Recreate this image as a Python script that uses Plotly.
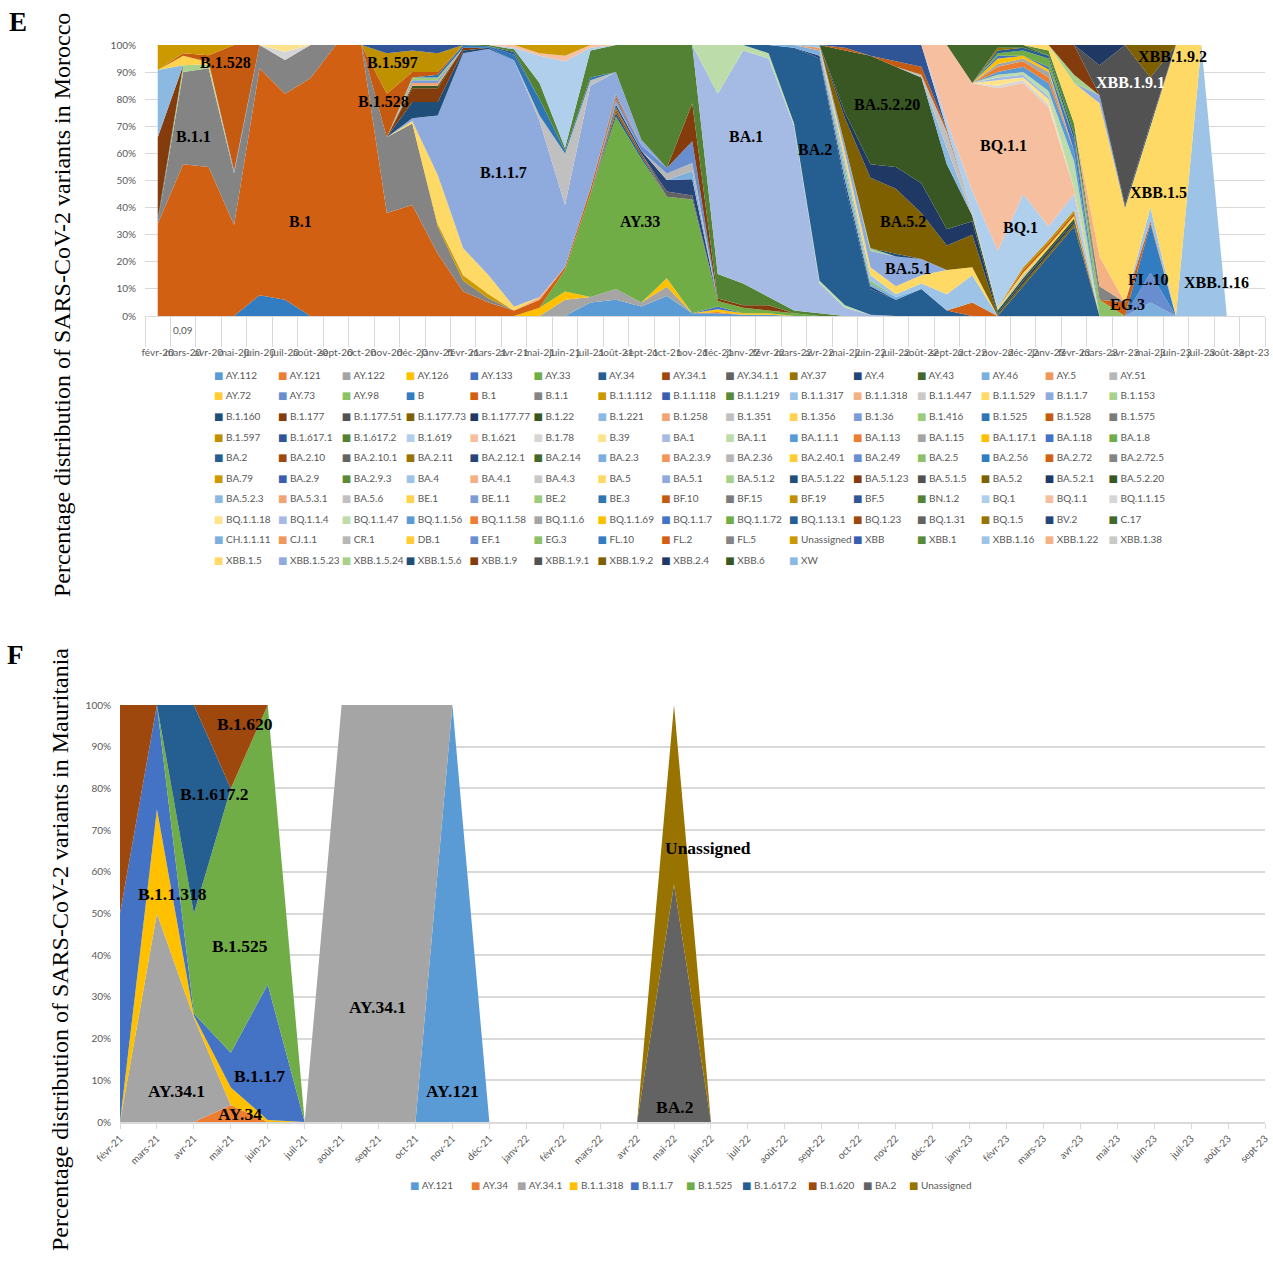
import plotly.graph_objects as go

W, H = 1273, 1263

# ---------------------------------------------------------------- panel E data
MONTHS_E = ["févr-20", "mars-20", "avr-20", "mai-20", "juin-20", "juil-20", "août-20", "sept-20",
            "oct-20", "nov-20", "déc-20", "janv-21", "févr-21", "mars-21", "avr-21", "mai-21",
            "juin-21", "juil-21", "août-21", "sept-21", "oct-21", "nov-21", "déc-21", "janv-22",
            "févr-22", "mars-22", "avr-22", "mai-22", "juin-22", "juil-22", "août-22", "sept-22",
            "oct-22", "nov-22", "déc-22", "janv-23", "févr-23", "mars-23", "avr-23", "mai-23",
            "juin-23", "juil-23", "août-23", "sept-23"]

VARIANTS_E = [
    "AY.112", "AY.121", "AY.122", "AY.126", "AY.133", "AY.33", "AY.34", "AY.34.1", "AY.34.1.1", "AY.37", "AY.4", "AY.43", "AY.46", "AY.5", "AY.51",
    "AY.72", "AY.73", "AY.98", "B", "B.1", "B.1.1", "B.1.1.112", "B.1.1.118", "B.1.1.219", "B.1.1.317", "B.1.1.318", "B.1.1.447", "B.1.1.529", "B.1.1.7", "B.1.153",
    "B.1.160", "B.1.177", "B.1.177.51", "B.1.177.73", "B.1.177.77", "B.1.22", "B.1.221", "B.1.258", "B.1.351", "B.1.356", "B.1.36", "B.1.416", "B.1.525", "B.1.528", "B.1.575",
    "B.1.597", "B.1.617.1", "B.1.617.2", "B.1.619", "B.1.621", "B.1.78", "B.39", "BA.1", "BA.1.1", "BA.1.1.1", "BA.1.13", "BA.1.15", "BA.1.17.1", "BA.1.18", "BA.1.8",
    "BA.2", "BA.2.10", "BA.2.10.1", "BA.2.11", "BA.2.12.1", "BA.2.14", "BA.2.3", "BA.2.3.9", "BA.2.36", "BA.2.40.1", "BA.2.49", "BA.2.5", "BA.2.56", "BA.2.72", "BA.2.72.5",
    "BA.79", "BA.2.9", "BA.2.9.3", "BA.4", "BA.4.1", "BA.4.3", "BA.5", "BA.5.1", "BA.5.1.2", "BA.5.1.22", "BA.5.1.23", "BA.5.1.5", "BA.5.2", "BA.5.2.1", "BA.5.2.20",
    "BA.5.2.3", "BA.5.3.1", "BA.5.6", "BE.1", "BE.1.1", "BE.2", "BE.3", "BF.10", "BF.15", "BF.19", "BF.5", "BN.1.2", "BQ.1", "BQ.1.1", "BQ.1.1.15",
    "BQ.1.1.18", "BQ.1.1.4", "BQ.1.1.47", "BQ.1.1.56", "BQ.1.1.58", "BQ.1.1.6", "BQ.1.1.69", "BQ.1.1.7", "BQ.1.1.72", "BQ.1.13.1", "BQ.1.23", "BQ.1.31", "BQ.1.5", "BV.2", "C.17",
    "CH.1.1.11", "CJ.1.1", "CR.1", "DB.1", "EF.1", "EG.3", "FL.10", "FL.2", "FL.5", "Unassigned", "XBB", "XBB.1", "XBB.1.16", "XBB.1.22", "XBB.1.38",
    "XBB.1.5", "XBB.1.5.23", "XBB.1.5.24", "XBB.1.5.6", "XBB.1.9", "XBB.1.9.1", "XBB.1.9.2", "XBB.2.4", "XBB.6", "XW",
]

# monthly composition (% of sequences), one small dict per month
E_M00 = {"B.1": 34, "B.1.1": 0.7, "B.1.160": 1, "B.1.177": 30.3, "B.1.221": 24.8, "Unassigned": 9.2}
E_M01 = {"B.1": 56, "B.1.1": 34, "B.1.153": 2.5, "B.1.356": 3.5, "B.1.528": 1, "Unassigned": 3}
E_M02 = {"B.1": 55, "B.1.1": 36.4, "B.1.153": 1.5, "B.1.356": 0.8, "B.1.528": 2.5, "Unassigned": 3.8}
E_M03 = {"B.1": 33.6, "B.1.1": 19, "B.1.36": 1, "B.1.528": 46.4}
E_M04 = {"B": 7.7, "B.1": 83.7, "B.1.1": 8.6}
E_M05 = {"B": 6, "B.1": 76, "B.1.1": 12.5, "B.1.78": 3, "B.39": 2.5}
E_M06 = {"B.1": 87.7, "B.1.1": 12.3}
E_M07 = {"B.1": 100}
E_M08 = {"B.1": 100}
E_M09 = {"B.1": 38, "B.1.1": 28, "B.1.528": 16, "B.1.597": 15, "B.1.617.1": 3}
E_M10 = {"B.1": 41, "B.1.1": 30, "B.1.1.529": 1, "B.1.1.7": 1, "B.1.160": 6, "B.1.177": 5, "B.1.22": 1,
         "B.1.258": 1, "B.1.36": 1, "B.1.416": 1, "B.1.528": 2, "B.1.597": 8, "B.1.617.1": 2}
E_M11 = {"B.1": 23, "B.1.1": 10, "B.1.1.112": 1, "B.1.1.529": 18, "B.1.1.7": 22, "B.1.160": 5, "B.1.177": 5,
         "B.1.22": 1, "B.1.258": 1, "B.1.36": 1, "B.1.416": 1, "B.1.525": 1, "B.1.528": 1, "B.1.597": 7, "B.1.617.1": 3}
E_M12 = {"B.1": 9, "B.1.1": 4, "B.1.1.112": 2, "B.1.1.529": 10, "B.1.1.7": 72, "B.1.160": 1, "B.1.177": 1, "B.1.525": 1}
E_M13 = {"B.1": 5, "B.1.1": 1.5, "B.1.1.112": 1.5, "B.1.1.529": 7, "B.1.1.7": 83.5, "B.1.160": 0.5, "B.1.525": 0.5, "B.1.617.2": 0.5}
E_M14 = {"B.1": 2, "B.1.1.529": 1.4, "B.1.1.7": 91, "B.1.525": 2, "B.1.617.1": 1, "B.1.617.2": 1, "B.1.619": 0.6, "B.1.621": 1}
E_M15 = {"AY.126": 3, "B.1": 3, "B.1.1.318": 1, "B.1.1.7": 65, "B.1.351": 2, "B.1.525": 6, "B.1.617.2": 6,
         "B.1.619": 10, "B.1.621": 1, "Unassigned": 3}
E_M16 = {"AY.122": 6, "AY.126": 3, "AY.33": 8, "B.1": 1, "B.1.1.7": 23, "B.1.351": 19, "B.1.525": 1, "B.1.617.2": 1,
         "B.1.619": 32, "B.1.621": 2, "Unassigned": 4}
E_M17 = {"AY.112": 5, "AY.122": 2, "AY.33": 38, "B.1": 2, "B.1.1.7": 38, "B.1.351": 2, "B.1.525": 1, "B.1.617.2": 10,
         "B.1.619": 1, "B.1.621": 1}
E_M18 = {"AY.112": 6, "AY.122": 4, "AY.33": 63.5, "AY.34": 1.5, "AY.34.1": 1, "AY.37": 1, "AY.4": 1, "AY.46": 1,
         "AY.73": 1, "B.1": 1, "B.1.1": 1, "B.1.1.7": 8, "B.1.617.2": 10}
E_M19 = {"AY.112": 3.5, "AY.122": 1.5, "AY.33": 53, "AY.34": 1, "AY.34.1": 1, "AY.4": 1, "AY.73": 2, "B.1.1.7": 2, "B.1.617.2": 35}
E_M20 = {"AY.112": 7.4, "AY.122": 3.4, "AY.126": 3.1, "AY.33": 30.1, "AY.34.1.1": 1.9, "AY.4": 4.3, "AY.51": 2.4,
         "AY.73": 2, "B.1.617.2": 45.4}
E_M21 = {"AY.112": 1, "AY.33": 42, "AY.34.1.1": 1.5, "AY.4": 6, "AY.46": 3, "AY.51": 3, "AY.73": 8, "B.1.177": 14, "B.1.617.2": 21.5}
E_M22 = {"AY.112": 1, "AY.121": 0.5, "AY.126": 1, "AY.133": 1, "AY.33": 2, "B.1.177": 1, "B.1.617.2": 9, "BA.1": 66.5, "BA.1.1": 18}
E_M23 = {"AY.112": 0.5, "AY.126": 0.5, "AY.33": 2, "B.1.177": 1, "B.1.617.2": 8, "BA.1": 86, "BA.1.1": 2}
E_M24 = {"AY.112": 0.5, "AY.126": 0.5, "AY.33": 1, "B.1.177": 2, "B.1.617.2": 3, "BA.1": 88, "BA.1.1": 2, "BA.2": 3}
E_M25 = {"AY.33": 1, "B.1.617.2": 1, "BA.1": 68, "BA.1.1": 1, "BA.2": 28, "BA.2.3": 1}
E_M26 = {"B.1.617.2": 1, "BA.1": 11, "BA.1.1": 1, "BA.2": 82, "BA.2.12.1": 1, "BA.2.3": 2, "BA.2.3.9": 1, "BA.4": 1}
E_M27 = {"BA.1": 3, "BA.1.1": 1, "BA.2": 44, "BA.2.12.1": 2, "BA.2.3": 3, "BA.2.5": 2, "BA.4": 2, "BA.4.1": 1, "BA.5": 2,
         "BA.5.1": 3, "BA.5.2": 10, "BA.5.2.1": 2, "BA.5.2.20": 23, "BF.10": 1, "BF.5": 1}
E_M28 = {"BA.1": 0.5, "BA.2": 9.5, "BA.2.12.1": 1, "BA.2.3": 1, "BA.2.5": 1, "BA.4": 2, "BA.5": 3, "BA.5.1": 6,
         "BA.5.1.2": 1, "BA.5.2": 26, "BA.5.2.1": 5, "BA.5.2.20": 40, "BF.5": 4}
E_M29 = {"BA.2": 6, "BA.2.3": 1, "BA.4": 1, "BA.5": 3, "BA.5.1": 11, "BA.5.1.22": 1, "BA.5.2": 24, "BA.5.2.1": 8,
         "BA.5.2.20": 37, "BF.10": 2, "BF.5": 6}
E_M30 = {"BA.2": 10, "BA.4": 2, "BA.5": 3, "BA.5.1": 6, "BA.5.2": 17, "BA.5.2.1": 11, "BA.5.2.20": 39, "BA.5.6": 1,
         "BF.10": 3, "BF.5": 8}
E_M31 = {"BA.2": 2, "BA.4": 6, "BA.5": 9, "BA.5.2": 9, "BA.5.2.1": 6, "BA.5.2.20": 24, "BA.5.2.3": 6, "BA.5.6": 6,
         "BF.10": 1, "BQ.1": 3, "BQ.1.1": 28}
E_M32 = {"BA.2.72": 5, "BA.4": 10, "BA.5": 3, "BA.5.2": 12, "BA.5.2.1": 5, "BA.5.2.20": 2, "BA.5.6": 1, "BQ.1": 8,
         "BQ.1.1": 40, "C.17": 14}
E_M33 = {"BA.5.2": 0.5, "BA.5.2.1": 0.5, "BA.5.2.20": 1, "BA.5.2.3": 0.5, "BE.1": 0.5, "BQ.1": 21, "BQ.1.1": 60,
         "BQ.1.1.15": 1, "BQ.1.1.18": 2, "BQ.1.1.4": 1, "BQ.1.1.47": 1, "BQ.1.1.56": 1, "BQ.1.1.58": 2, "BQ.1.1.6": 1,
         "BQ.1.1.69": 2, "BQ.1.1.7": 1, "BQ.1.1.72": 1, "BQ.1.13.1": 1, "BQ.1.5": 1, "C.17": 1}
E_M34 = {"BA.2": 11, "BA.5.2": 1, "BA.5.2.1": 1, "BA.5.2.20": 1, "BA.5.6": 1, "BE.1": 1, "BF.10": 1, "BF.19": 1,
         "BQ.1": 27, "BQ.1.1": 41, "BQ.1.1.15": 1, "BQ.1.1.18": 1, "BQ.1.1.4": 1, "BQ.1.1.47": 1, "BQ.1.1.56": 2,
         "BQ.1.1.58": 2, "BQ.1.1.6": 1, "BQ.1.1.69": 1, "BQ.1.1.72": 2, "BQ.1.13.1": 1, "C.17": 1}
E_M35 = {"BA.2": 22, "BA.5.2": 1, "BA.5.2.1": 1, "BA.5.2.20": 1, "BE.1": 1, "BF.10": 1, "BF.19": 1, "BQ.1": 5,
         "BQ.1.1": 44, "BQ.1.1.15": 1, "BQ.1.1.18": 2, "BQ.1.1.4": 1, "BQ.1.1.47": 2, "BQ.1.1.56": 3, "BQ.1.1.58": 2,
         "BQ.1.1.6": 2, "BQ.1.1.69": 1, "BQ.1.1.7": 1, "BQ.1.1.72": 3, "BQ.1.13.1": 1, "XBB.1": 2, "XBB.1.5": 2}
E_M36 = {"BA.2": 33, "BA.5.2": 1, "BA.5.2.1": 1, "BA.5.2.20": 1, "BE.1": 1, "BF.10": 1, "BF.19": 1, "BQ.1": 6,
         "BQ.1.1": 2, "BQ.1.1.47": 10, "BQ.1.1.56": 4, "BQ.1.1.7": 4, "BQ.1.13.1": 2, "XBB.1": 4, "XBB.1.5": 15,
         "XBB.1.5.24": 3, "XBB.1.9": 11}
E_M37 = {"EG.3": 6, "FL.5": 5, "XBB.1.22": 11, "XBB.1.5": 56.5, "XBB.1.5.23": 3, "XBB.1.9.1": 11, "XBB.2.4": 7.5}
E_M38 = {"FL.2": 5, "XBB.1.5": 35, "XBB.1.5.6": 1, "XBB.1.9.1": 59}
E_M39 = {"CH.1.1.11": 5, "EF.1": 11, "FL.10": 18, "FL.2": 1, "XBB.1.16": 5, "XBB.1.5": 30, "XBB.1.5.6": 1,
         "XBB.1.9.1": 17, "XBB.1.9.2": 12}
E_M40 = {"XBB.1.5": 100}
E_M41 = {"XBB.1.16": 100}
E_M42 = {}
E_M43 = {}

E_MONTHLY = [E_M00, E_M01, E_M02, E_M03, E_M04, E_M05, E_M06, E_M07, E_M08, E_M09, E_M10, E_M11,
             E_M12, E_M13, E_M14, E_M15, E_M16, E_M17, E_M18, E_M19, E_M20, E_M21, E_M22, E_M23,
             E_M24, E_M25, E_M26, E_M27, E_M28, E_M29, E_M30, E_M31, E_M32, E_M33, E_M34, E_M35,
             E_M36, E_M37, E_M38, E_M39, E_M40, E_M41, E_M42, E_M43]

E_STRAY_LABEL = "0,09"

# ---------------------------------------------------------------- panel F data
MONTHS_F = ["févr-21", "mars-21", "avr-21", "mai-21", "juin-21", "juil-21", "août-21", "sept-21",
            "oct-21", "nov-21", "déc-21", "janv-22", "févr-22", "mars-22", "avr-22", "mai-22",
            "juin-22", "juil-22", "août-22", "sept-22", "oct-22", "nov-22", "déc-22", "janv-23",
            "févr-23", "mars-23", "avr-23", "mai-23", "juin-23", "juil-23", "août-23", "sept-23"]

VARIANTS_F = ["AY.121", "AY.34", "AY.34.1", "B.1.1.318", "B.1.1.7", "B.1.525", "B.1.617.2", "B.1.620", "BA.2", "Unassigned"]
F_AY121 = [0, 0, 0, 0, 0, 0, 0, 0, 0, 100, 0, 0, 0, 0, 0, 0, 0, 0, 0, 0, 0, 0, 0, 0, 0, 0, 0, 0, 0, 0, 0, 0]
F_AY34 = [0, 0, 0, 4, 0, 0, 0, 0, 0, 0, 0, 0, 0, 0, 0, 0, 0, 0, 0, 0, 0, 0, 0, 0, 0, 0, 0, 0, 0, 0, 0, 0]
F_AY341 = [0, 50, 25, 0, 0, 0, 100, 100, 100, 0, 0, 0, 0, 0, 0, 0, 0, 0, 0, 0, 0, 0, 0, 0, 0, 0, 0, 0, 0, 0, 0, 0]
F_B11318 = [0, 25, 0.5, 4.3, 0.5, 0, 0, 0, 0, 0, 0, 0, 0, 0, 0, 0, 0, 0, 0, 0, 0, 0, 0, 0, 0, 0, 0, 0, 0, 0, 0, 0]
F_B117 = [50, 25, 0.5, 8.3, 32.5, 0, 0, 0, 0, 0, 0, 0, 0, 0, 0, 0, 0, 0, 0, 0, 0, 0, 0, 0, 0, 0, 0, 0, 0, 0, 0, 0]
F_B1525 = [0, 0, 24, 63.4, 67, 0, 0, 0, 0, 0, 0, 0, 0, 0, 0, 0, 0, 0, 0, 0, 0, 0, 0, 0, 0, 0, 0, 0, 0, 0, 0, 0]
F_B16172 = [0, 0, 50, 0, 0, 0, 0, 0, 0, 0, 0, 0, 0, 0, 0, 0, 0, 0, 0, 0, 0, 0, 0, 0, 0, 0, 0, 0, 0, 0, 0, 0]
F_B1620 = [50, 0, 0, 20, 0, 0, 0, 0, 0, 0, 0, 0, 0, 0, 0, 0, 0, 0, 0, 0, 0, 0, 0, 0, 0, 0, 0, 0, 0, 0, 0, 0]
F_BA2 = [0, 0, 0, 0, 0, 0, 0, 0, 0, 0, 0, 0, 0, 0, 0, 57, 0, 0, 0, 0, 0, 0, 0, 0, 0, 0, 0, 0, 0, 0, 0, 0]
F_UNASSIGNED = [0, 0, 0, 0, 0, 0, 0, 0, 0, 0, 0, 0, 0, 0, 0, 43, 0, 0, 0, 0, 0, 0, 0, 0, 0, 0, 0, 0, 0, 0, 0, 0]
F_VALUES = [F_AY121, F_AY34, F_AY341, F_B11318, F_B117, F_B1525, F_B16172, F_B1620, F_BA2, F_UNASSIGNED]

PCT_TICKS = [0, 10, 20, 30, 40, 50, 60, 70, 80, 90, 100]
PCT_LABELS = ["0%", "10%", "20%", "30%", "40%", "50%", "60%", "70%", "80%", "90%", "100%"]

# ---------------------------------------------------------------- styles
PALETTE = [
    "#5B9BD5", "#ED7D31", "#A5A5A5", "#FFC000", "#4472C4", "#70AD47",
    "#255E91", "#9E480E", "#636363", "#997300", "#264478", "#43682B",
    "#7CAFDD", "#F1975A", "#B7B7B7", "#FFCD33", "#698ED0", "#8CC168",
    "#327DC2", "#D26012", "#848484", "#CC9A00", "#3A5DAE", "#5A8A39",
    "#9DC3E6", "#F4B183", "#C9C9C9", "#FFD966", "#8FAADC", "#A9D18E",
    "#1F4E79", "#843C0C", "#525252", "#7F6000", "#203864", "#385723",
    "#8CB9E2", "#F3A474", "#C0C0C0", "#FFD34D", "#7C9CD6", "#9BCB7B",
    "#2E75B6", "#C55A11", "#7B7B7B", "#BF9000", "#2F5597", "#548235",
    "#AFCFEC", "#F6C0A0", "#D6D6D6", "#FFE38C", "#A6BBE4", "#BCDDA9",
]
F_COLORS = ["#5B9BD5", "#ED7D31", "#A5A5A5", "#FFC000", "#4472C4", "#70AD47", "#255E91", "#9E480E", "#636363", "#997300"]
F_LEGENDWIDTH = [16, 1, 7, 16, 11, 11, 21, 10, 1, 0]

GRID = "#D9D9D9"
TICK_FONT = dict(family="Lato", size=10, color="#595959")
LEGEND_FONT = dict(family="Lato", size=10, color="#595959")
LABEL_FONT_E = dict(family="Liberation Serif", size=16, color="black")
LABEL_FONT_F = dict(family="Liberation Serif", size=17.5, color="black")
HIDDEN_MARKER = dict(size=0, color="rgba(0,0,0,0)", opacity=0, line=dict(width=0))

for m in E_MONTHLY:
    for k in m:
        if k not in VARIANTS_E:
            raise ValueError("unknown variant " + k)


def swatch_name(name, color):
    return '<span style="color:%s;font-family:DejaVu Sans">■</span> %s' % (color, name)


fig = go.Figure()

# panel E stacked areas
for k, name in enumerate(VARIANTS_E):
    ys = [m.get(name, 0) for m in E_MONTHLY]
    fig.add_trace(go.Scatter(x=MONTHS_E, y=ys, name=name, stackgroup="e", mode="none",
                             fillcolor=PALETTE[k % len(PALETTE)], line=dict(width=0),
                             showlegend=False, hoverinfo="skip", xaxis="x", yaxis="y"))

# panel F stacked areas
for k, name in enumerate(VARIANTS_F):
    fig.add_trace(go.Scatter(x=MONTHS_F, y=F_VALUES[k], name=name, stackgroup="f", mode="none",
                             fillcolor=F_COLORS[k], line=dict(width=0),
                             showlegend=False, hoverinfo="skip", xaxis="x2", yaxis="y2"))

# legend entries: small square swatch followed by the lineage name
E_PER_ROW = 15
for k, name in enumerate(VARIANTS_E):
    row = k // E_PER_ROW
    lg = "legend" if row == 0 else "legend%d" % (row + 1)
    last_col = (k % E_PER_ROW == E_PER_ROW - 1) or (k == len(VARIANTS_E) - 1)
    fig.add_trace(go.Scatter(x=[None], y=[None], mode="markers", legend=lg,
                             name=swatch_name(name, PALETTE[k % len(PALETTE)]),
                             legendwidth=60 if last_col else 18.9,
                             marker=HIDDEN_MARKER, showlegend=True, hoverinfo="skip",
                             xaxis="x", yaxis="y"))
for k, name in enumerate(VARIANTS_F):
    fig.add_trace(go.Scatter(x=[None], y=[None], mode="markers", legend="legend11",
                             name=swatch_name(name, F_COLORS[k]), legendwidth=F_LEGENDWIDTH[k],
                             marker=HIDDEN_MARKER, showlegend=True, hoverinfo="skip",
                             xaxis="x2", yaxis="y2"))

n_rows = (len(VARIANTS_E) + E_PER_ROW - 1) // E_PER_ROW
legends = {}
for r in range(n_rows):
    key = "legend" if r == 0 else "legend%d" % (r + 1)
    legends[key] = dict(orientation="h", x=174 / W, xanchor="left", y=1 - (375 + 20.56 * r) / H,
                        yanchor="middle", entrywidthmode="pixels", itemwidth=30,
                        font=LEGEND_FONT, bgcolor="rgba(0,0,0,0)", borderwidth=0, traceorder="normal")
legends["legend11"] = dict(orientation="h", x=370 / W, xanchor="left", y=1 - 1185 / H, yanchor="middle",
                           itemwidth=30, font=LEGEND_FONT, bgcolor="rgba(0,0,0,0)", borderwidth=0,
                           traceorder="normal")

fig.update_layout(
    template="none",
    width=W, height=H, margin=dict(l=0, r=0, t=0, b=0, pad=0, autoexpand=False),
    paper_bgcolor="white", plot_bgcolor="white", hovermode=False,
    font=dict(family="Lato", size=10, color="#595959"),
    xaxis=dict(domain=[145 / W, 1265 / W], anchor="y", type="category", categoryorder="array",
               categoryarray=MONTHS_E, range=[-0.5, len(MONTHS_E) - 0.5], tickmode="array",
               tickvals=MONTHS_E, ticktext=MONTHS_E, tickangle=0, ticks="outside", tickson="boundaries",
               ticklen=30, tickcolor=GRID, tickwidth=1, showline=True, linecolor=GRID, showgrid=False,
               zeroline=False, tickfont=TICK_FONT, ticklabelstandoff=27, automargin=False, fixedrange=True),
    yaxis=dict(domain=[1 - 316 / H, 1 - 45 / H], anchor="x", range=[0, 100], tickmode="array",
               tickvals=PCT_TICKS, ticktext=PCT_LABELS, showgrid=True, gridcolor=GRID, gridwidth=1,
               zeroline=False, showline=False, ticks="", tickfont=TICK_FONT, ticklabelstandoff=8,
               automargin=False, fixedrange=True),
    xaxis2=dict(domain=[120 / W, 1265 / W], anchor="y2", type="category", categoryorder="array",
                categoryarray=MONTHS_F, range=[0, len(MONTHS_F) - 1], tickmode="array",
                tickvals=MONTHS_F, ticktext=MONTHS_F, tickangle=-45, ticks="outside", ticklen=5,
                tickcolor=GRID, showline=True, linecolor=GRID, linewidth=1.5, showgrid=False,
                zeroline=False, tickfont=TICK_FONT, automargin=False, fixedrange=True),
    yaxis2=dict(domain=[1 - 1122 / H, 1 - 705 / H], anchor="x2", range=[0, 100], tickmode="array",
                tickvals=PCT_TICKS, ticktext=PCT_LABELS, showgrid=True, gridcolor=GRID, gridwidth=1.5,
                zeroline=False, showline=False, ticks="", tickfont=TICK_FONT, ticklabelstandoff=8,
                automargin=False, fixedrange=True),
    **legends,
)

# ---------------------------------------------------------------- text labels
E_LABELS = [("B.1.528", 2.68, 93.4), ("B.1.597", 9.21, 93.4), ("B.1.528", 8.85, 79.0), ("B.1.1", 1.39, 66.4),
            ("B.1", 5.59, 34.7), ("B.1.1.7", 13.6, 52.8), ("AY.33", 18.95, 34.7), ("BA.1", 23.12, 66.4),
            ("BA.2", 25.83, 61.3), ("BA.5.2.20", 28.66, 77.9), ("BQ.1.1", 33.22, 63.1), ("BA.5.2", 29.28, 34.7),
            ("BQ.1", 33.88, 32.5), ("BA.5.1", 29.48, 17.7), ("XBB.1.9.2", 39.86, 95.6), ("XBB.1.5", 39.3, 45.4),
            ("FL.10", 38.9, 13.3), ("EG.3", 38.1, 4.4), ("XBB.1.16", 41.6, 12.2)]
E_WHITE_LABELS = [("XBB.1.9.1", 38.2, 86.0)]
F_LABELS = [("B.1.620", 3.38, 95.4), ("B.1.617.2", 2.57, 78.7), ("B.1.1.318", 1.41, 54.7), ("B.1.525", 3.25, 42.2),
            ("AY.34.1", 6.98, 27.6), ("Unassigned", 15.92, 65.7), ("AY.34.1", 1.52, 7.4), ("B.1.1.7", 3.79, 11.0),
            ("AY.121", 9.01, 7.4), ("AY.34", 3.25, 1.9), ("BA.2", 15.0, 3.6)]

CENTER = dict(xanchor="center", yanchor="middle", showarrow=False)
for txt, xi, yv in E_LABELS:
    fig.add_annotation(x=xi, y=yv, xref="x", yref="y", text="<b>%s</b>" % txt, font=LABEL_FONT_E, **CENTER)
for txt, xi, yv in E_WHITE_LABELS:
    fig.add_annotation(x=xi, y=yv, xref="x", yref="y", text="<b>%s</b>" % txt,
                       font=dict(family="Liberation Serif", size=16, color="white"), **CENTER)
for txt, xi, yv in F_LABELS:
    fig.add_annotation(x=xi, y=yv, xref="x2", yref="y2", text="<b>%s</b>" % txt, font=LABEL_FONT_F, **CENTER)

# stray data label under the second month of panel E
fig.add_annotation(x=1, y=1 - 330 / H, xref="x", yref="paper", text=E_STRAY_LABEL, font=TICK_FONT, **CENTER)

TITLE_FONT = dict(family="Liberation Serif", size=24, color="black")
fig.add_annotation(x=62 / W, y=1 - 305 / H, xref="paper", yref="paper", textangle=-90,
                   text="Percentage distribution of SARS-CoV-2 variants in Morocco", font=TITLE_FONT, **CENTER)
fig.add_annotation(x=60 / W, y=1 - 950 / H, xref="paper", yref="paper", textangle=-90,
                   text="Percentage distribution of SARS-CoV-2 variants in Mauritania", font=TITLE_FONT, **CENTER)
PANEL_FONT = dict(family="Liberation Serif", size=27, color="black")
fig.add_annotation(x=18 / W, y=1 - 22 / H, xref="paper", yref="paper", text="<b>E</b>", font=PANEL_FONT, **CENTER)
fig.add_annotation(x=15 / W, y=1 - 655 / H, xref="paper", yref="paper", text="<b>F</b>", font=PANEL_FONT, **CENTER)

fig.write_html("out.html", config={"displayModeBar": False},
               post_script="document.body.style.margin='0px';document.body.style.padding='0px';"
                           "document.body.style.overflow='hidden';")
